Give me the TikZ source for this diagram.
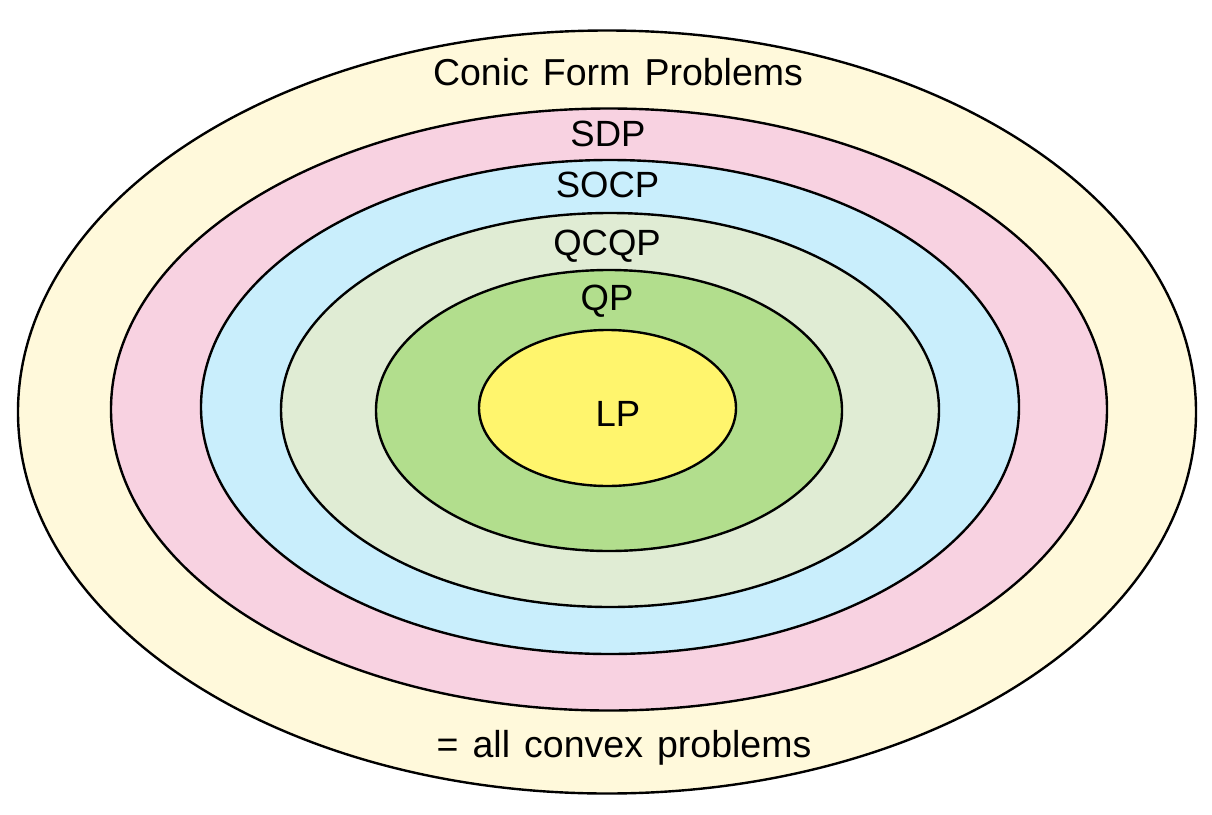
\documentclass[tikz,border=0pt]{standalone}
\usepackage{fontspec}
\setmainfont{Liberation Sans}[WordSpace=1.35]
\definecolor{cOuter}{HTML}{FFF9DB}
\definecolor{cSDP}{HTML}{F8D2E1}
\definecolor{cSOCP}{HTML}{C9EEFC}
\definecolor{cQCQP}{HTML}{E0ECD4}
\definecolor{cQP}{HTML}{B2DE8D}
\definecolor{cLP}{HTML}{FFF56D}
\tikzset{
  ring/.style={draw=black, line width=2.4pt},
  lab/.style={anchor=base, inner sep=0pt, font=\fontsize{36.5}{43}\selectfont},
  biglab/.style={anchor=base, inner sep=0pt, font=\fontsize{37.5}{44}\selectfont}
}
\begin{document}
\begin{tikzpicture}[x=1pt,y=-1pt]
\useasboundingbox (0,0) rectangle (1212,814);
\filldraw[ring, fill=cOuter] (607,412) ellipse [x radius=589, y radius=381.5];
\filldraw[ring, fill=cSDP] (609,409.5) ellipse [x radius=498, y radius=301];
\filldraw[ring, fill=cSOCP] (610,407) ellipse [x radius=409, y radius=247];
\filldraw[ring, fill=cQCQP] (610,410) ellipse [x radius=329, y radius=197];
\filldraw[ring, fill=cQP] (609,410.5) ellipse [x radius=233, y radius=140.5];
\filldraw[ring, fill=cLP] (607.5,408) ellipse [x radius=128.5, y radius=78];
\node[biglab] (conic) at (618,85) {Conic Form Problems};
\node[lab] (sdp) at (608,146) {SDP};
\node[lab] (socp) at (607.5,197) {SOCP};
\node[lab] (qcqp) at (607,255) {QCQP};
\node[lab] (qp) at (607,310) {QP};
\node[lab] (lp) at (618,426) {LP};
\node[biglab] (allcvx) at (624,757) {= all convex problems};
\end{tikzpicture}
\end{document}
